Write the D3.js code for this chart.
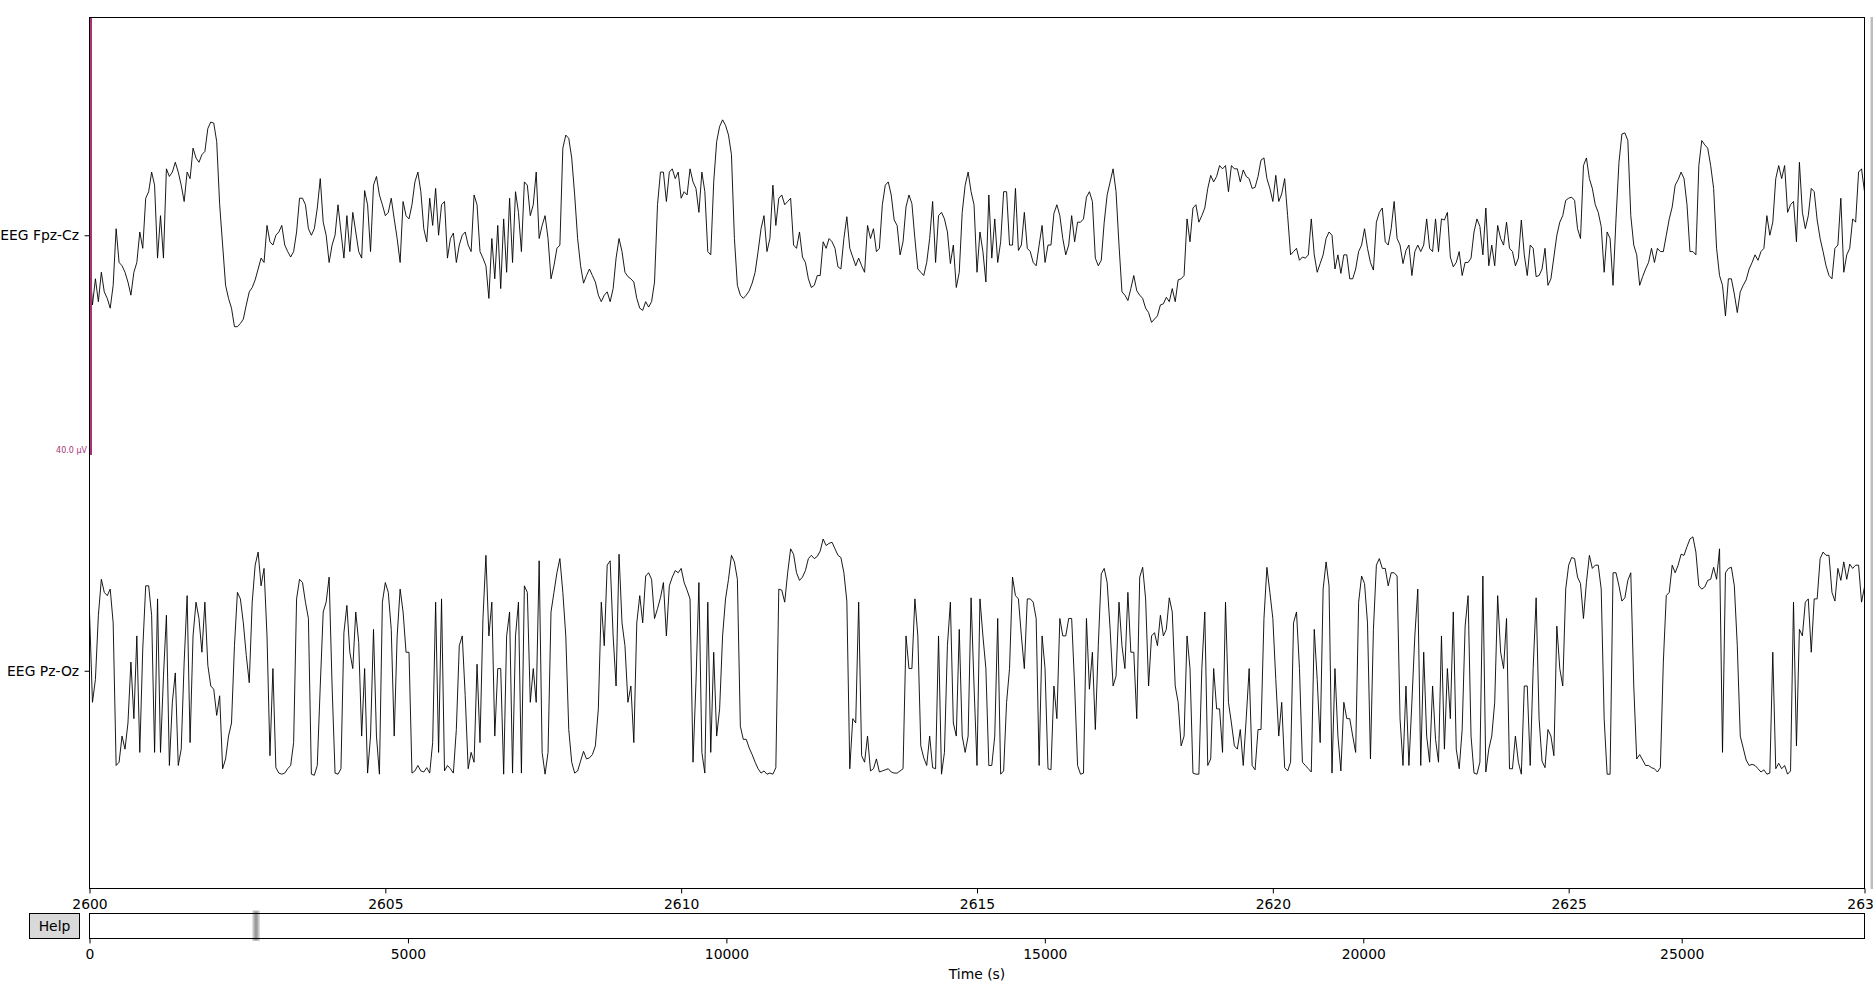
<!DOCTYPE html>
<html lang="en">
<head>
<meta charset="utf-8">
<title>EEG raw traces, 2600-2630 s</title>
<script src="https://cdn.jsdelivr.net/npm/d3@7"></script>
<style>
  body { margin: 0; background: #fff; }
  svg { display: block; }
  text { font-family: "DejaVu Sans", sans-serif; }
</style>
</head>
<body>
<script>
// figure size
var W = 1873, H = 982;

// window shown, sampling of the traced values (samples per second)
var tStart = 2600, tEnd = 2630, sfreq = 20;
// full recording length shown in the scrollbar (s)
var recordEnd = 27870;

var channels = ["EEG Fpz-Cz", "EEG Pz-Oz"];
var timeTicks = [2600, 2605, 2610, 2615, 2620, 2625, 2630];
var scrollTicks = [0, 5000, 10000, 15000, 20000, 25000];
var scaleUV = 40;   // µV per channel spacing (scale bar)

// EEG Fpz-Cz, µV, one value every 0.05 s from 2600 s
var fpzCz = [
  -2.1,-6.4,-4.0,-6.1,-3.4,-5.2,-5.8,-6.7,-4.6,0.6,
  -2.5,-2.8,-3.4,-4.3,-5.5,-3.4,-2.5,0.3,-1.2,3.4,
  4.0,5.8,4.6,-2.1,1.8,-2.1,6.1,5.4,5.8,6.7,
  5.8,4.6,3.1,5.8,5.2,8.0,7.1,6.7,7.4,7.7,
  9.8,10.4,10.3,8.6,2.8,-0.9,-4.6,-5.8,-6.7,-8.4,
  -8.4,-8.1,-7.7,-6.4,-5.2,-4.8,-4.1,-3.1,-2.1,-2.5,
  0.9,-0.6,-0.9,0,0.3,0.9,-0.9,-1.5,-2.0,-1.5,
  0.3,3.4,3.4,2.8,0.6,0,0.6,2.5,5.2,1.2,
  0,-2.5,-0.9,0,2.8,0.3,-2.1,1.8,-1.5,2.1,
  0.3,-1.5,-2.1,4.1,2.8,-1.5,4.6,5.4,3.7,2.8,
  1.8,2.1,3.4,1.5,-0.3,-2.5,3.1,1.8,1.5,2.8,
  4.9,5.8,4.0,0.6,-0.6,3.4,0.9,4.3,0,2.8,
  3.1,-2.1,-0.3,0.2,-2.5,-0.9,0,0.3,-0.9,-1.5,
  3.7,2.8,-1.5,-2.1,-2.8,-5.8,-0.3,-4.0,0.9,-4.9,
  1.5,-3.4,3.4,-2.5,4.0,2.1,-1.5,4.9,4.6,1.8,
  // 2607.5 s
  2.8,5.8,-0.3,0.9,1.8,-0.3,-4.0,-2.8,-1.2,-0.9,
  8.0,9.2,8.9,7.1,3.7,-0.3,-2.8,-4.4,-3.7,-3.1,
  -3.7,-4.3,-5.5,-6.1,-5.5,-5.2,-6.1,-4.9,-2.1,-0.3,
  -1.5,-3.4,-3.8,-4.0,-4.3,-5.8,-6.7,-6.9,-6.1,-6.6,
  -6.1,-4.3,2.8,5.8,5.8,3.1,5.8,6.1,5.2,5.8,
  3.4,4.0,3.7,6.1,4.9,4.3,2.1,5.8,4.0,-1.5,
  -1.8,4.9,8.6,10.0,10.6,10.1,9.2,7.4,-0.3,-4.6,
  -5.5,-5.8,-5.5,-5.1,-4.4,-3.4,-1.5,0.6,1.8,-1.5,
  -0.3,4.6,0.9,3.4,3.7,2.8,3.1,3.4,-0.9,-1.2,
  0.3,-2.0,-2.5,-4.0,-4.8,-4.6,-3.7,-3.7,-0.6,-1.2,
  -0.3,-0.6,-1.2,-2.9,-3.1,-0.3,1.7,-1.2,-2.0,-2.8,
  -2.1,-2.8,-3.4,0.9,-0.3,0.6,-1.5,-1.2,2.8,4.6,
  4.9,3.7,1.4,0.9,-1.8,-0.6,2.6,3.7,2.9,-0.3,
  -3.1,-3.4,-3.7,-2.5,-0.3,3.1,-2.5,1.8,2.1,1.5,
  0.3,-2.6,-0.9,-4.8,-3.4,2.1,4.6,5.8,4.0,2.8,
  // 2615 s
  -3.4,0.3,-1.5,-4.3,3.7,-2.1,1.5,-2.5,-0.6,4.0,
  4.0,-0.9,-0.9,4.3,-1.4,-0.9,2.1,-1.2,-1.5,-2.5,
  -2.8,-0.9,0.9,-2.5,-0.9,-0.9,2.0,2.8,1.8,-0.3,
  -1.8,-0.9,1.8,-0.6,1.2,1.2,1.5,3.5,4.0,3.1,
  -2.1,-2.8,-2.3,1.2,3.7,4.9,6.1,4.0,-0.9,-5.2,
  -5.5,-6.0,-4.9,-3.7,-5.1,-5.5,-5.8,-6.7,-7.1,-8.0,
  -7.7,-7.4,-6.4,-6.3,-5.7,-6.1,-4.9,-6.1,-4.1,-4.0,
  -3.7,1.5,-0.6,2.5,2.8,1.2,1.8,2.5,4.3,5.5,
  4.9,5.4,6.4,6.1,6.4,4.0,6.4,6.1,6.1,4.9,
  6.0,5.4,5.2,4.3,4.4,5.4,6.9,7.1,5.2,4.3,
  3.1,5.5,3.1,3.8,5.2,1.8,-1.8,-1.5,-1.2,-2.3,
  -2.0,-2.1,-1.8,1.5,-1.8,-3.4,-2.6,-1.8,-0.3,0.3,
  0,-3.1,-1.8,-3.5,-1.8,-1.8,-4.0,-4.0,-3.1,-1.5,
  -0.9,0.6,-1.2,-2.5,-3.2,1.2,2.1,2.5,-0.6,-0.9,
  0.6,3.1,-0.3,-0.9,-2.6,-1.4,-0.9,-3.7,-1.5,-0.9,
  // 2622.5 s
  -1.5,-0.9,1.5,-1.2,-1.5,1.5,-1.5,1.5,1.4,2.1,
  -2.0,-2.9,-2.5,-1.5,-3.7,-2.5,-2.5,-2.1,0.3,1.5,
  0.8,-1.8,2.5,-2.8,-0.9,-2.8,0.9,-0.3,-0.9,1.2,
  -1.2,-1.5,-2.8,-2.1,1.4,-1.8,-3.7,-0.9,-1.2,-3.8,
  -3.7,-3.1,-1.2,-4.6,-4.0,-2.0,0,1.2,1.8,3.2,
  3.4,3.5,3.2,0.6,-0.3,6.4,7.1,5.2,4.3,2.8,
  2.1,0.8,-3.4,0.3,-0.3,-4.6,1.5,6.7,9.3,9.4,
  8.7,1.8,-0.9,-1.8,-4.6,-3.8,-3.1,-2.5,-1.2,-2.5,
  -1.2,-1.5,-1.5,0,1.5,2.6,4.6,5.1,5.8,5.2,
  2.8,-1.5,-1.5,-1.8,6.4,8.7,8.3,8.0,6.4,4.3,
  -1.2,-3.7,-4.6,-7.4,-4.0,-4.0,-5.4,-7.1,-5.2,-4.6,
  -4.1,-3.1,-2.5,-1.8,-2.3,-1.5,-1.2,1.8,0,1.2,
  5.2,6.4,5.2,6.4,2.1,2.8,3.1,-0.6,6.7,2.1,
  0.6,1.8,4.3,4.0,1.4,-0.3,-1.5,-2.8,-3.7,-4.0,
  -1.2,-0.9,3.4,-3.4,-1.8,-1.2,1.5,1.2,5.8,6.1,
  4.0
];

// EEG Pz-Oz, µV, one value every 0.05 s from 2600 s
var pzOz = [
  5.4,-2.9,-0.8,5.1,8.4,7.2,6.9,7.5,4.4,-8.7,
  -8.4,-6.0,-7.2,-4.8,0.8,-4.4,3.2,-7.5,2.0,7.8,
  7.8,5.1,-7.5,6.6,-7.5,-0.5,5.1,-8.7,-2.9,-0.2,
  -8.7,-7.2,0.8,6.9,-6.6,3.2,6.3,4.8,1.7,6.3,
  0.5,-1.4,-1.7,-4.1,-2.3,-9.0,-8.1,-6.0,-4.8,2.3,
  7.2,6.6,4.4,1.4,-1.1,6.3,9.7,10.9,7.8,9.4,
  3.2,-7.8,0.2,-8.9,-9.4,-9.5,-9.4,-9.0,-8.7,-6.6,
  6.6,8.4,8.1,6.3,4.8,-9.5,-9.6,-8.7,-1.4,5.4,
  6.3,8.6,-1.4,-9.4,-9.5,-9.0,3.5,6.0,1.7,0.2,
  5.4,2.6,-6.0,0.2,-9.4,-6.0,3.8,-6.0,-9.5,6.3,
  8.1,7.2,3.8,-6.0,3.2,7.5,5.4,1.7,1.7,-9.4,
  -9.2,-8.7,-9.2,-9.3,-8.9,-9.4,-6.6,6.3,-7.5,6.6,
  -9.2,-8.7,-9.0,-9.4,-5.4,2.3,3.2,-2.3,-9.0,-7.5,
  -8.4,0.6,-6.6,4.8,10.6,3.2,6.3,-6.0,0.2,0.2,
  -9.5,3.2,5.4,-9.4,3.2,6.3,-9.4,7.8,7.2,-2.9,
  // 2607.5 s
  0.2,-2.9,10.1,-7.5,-9.5,-7.5,5.4,7.2,9.0,10.3,
  7.2,3.2,-5.4,-8.4,-9.4,-9.2,-8.3,-7.4,-8.1,-8.0,
  -7.7,-6.9,-3.5,6.3,2.3,9.7,10.1,3.2,-1.4,10.7,
  4.4,2.3,-2.9,-1.4,-6.6,4.4,6.9,4.4,8.7,9.0,
  8.4,4.8,5.7,6.7,8.1,3.2,7.8,8.6,9.2,9.0,
  9.4,8.1,7.4,6.6,-8.4,-1.1,8.1,-7.5,-9.4,6.3,
  -7.5,1.7,-6.0,-3.5,3.2,6.6,8.4,10.6,10.0,8.4,
  -5.1,-6.3,-6.3,-7.1,-7.7,-8.4,-9.0,-9.4,-9.2,-9.5,
  -9.4,-9.5,-8.9,7.5,7.4,6.3,9.0,11.2,10.7,9.0,
  8.3,8.6,9.2,10.3,10.6,10.3,10.5,11.0,12.1,11.5,
  11.7,11.8,11.2,10.6,10.4,9.0,6.4,-9.0,-4.4,-4.8,
  6.3,-7.8,-8.4,-6.0,-9.2,-9.0,-8.1,-9.3,-9.2,-9.1,
  -9.0,-9.3,-9.4,-9.4,-9.2,-9.0,3.2,0.2,0.2,6.6,
  3.2,-6.9,-8.0,-8.7,-6.0,-8.9,-9.0,3.2,-9.5,-7.5,
  2.3,6.3,-4.8,-6.0,3.8,-6.0,-7.5,-6.0,6.7,-1.4,
  // 2615 s
  -8.7,6.6,3.2,0.2,-8.7,-8.7,-6.0,4.8,-9.5,-9.2,
  -2.9,0.2,8.6,6.9,6.6,3.2,0.2,6.6,6.6,6.3,
  4.8,-8.7,3.2,0.2,-9.0,-9.1,-1.4,-4.4,4.8,3.2,
  3.2,4.8,4.8,-1.4,-8.7,-9.5,-9.4,4.8,-1.7,1.7,
  -5.4,2.3,8.9,9.4,8.1,3.8,-1.4,-0.5,6.3,2.3,
  0.2,7.2,1.7,1.7,-4.4,8.6,9.5,6.6,-1.4,3.2,
  3.5,2.3,5.1,3.2,3.8,6.7,5.4,-1.4,-2.9,-6.9,
  -6.0,3.2,0.2,-9.4,-9.5,-9.5,0.2,5.4,-8.7,-8.1,
  0.2,-3.5,-3.5,-7.5,6.3,-2.9,-4.8,-6.9,-7.2,-5.4,
  -8.7,-4.4,0.2,-8.7,-9.1,-5.4,-5.4,4.8,9.5,7.2,
  4.8,-0.8,-6.0,-2.9,-8.9,-9.2,-8.4,4.4,5.4,0.2,
  -8.4,-8.7,-9.0,-9.3,3.8,-0.8,-6.6,7.5,10.0,7.8,
  -9.4,0.2,-6.0,-9.2,-2.9,-4.4,-4.4,-6.0,-7.5,6.3,
  8.7,8.0,4.4,-8.1,3.8,9.7,10.3,9.4,9.4,7.8,
  9.0,9.0,8.7,-4.4,-8.7,-1.4,-8.7,-2.9,3.2,7.5,
  // 2622.5 s
  -8.7,1.7,-6.0,-8.4,-1.4,-6.3,-8.4,3.2,-7.2,0.2,
  -4.4,5.4,-7.2,-9.0,-5.4,4.1,6.9,-6.0,-9.4,-9.5,
  -8.4,8.7,-9.3,-7.2,-6.0,-2.9,6.9,1.7,0.2,4.8,
  -9.0,-9.0,-6.0,-8.4,-9.5,-1.4,-1.4,-8.7,0.2,6.7,
  -4.4,-8.3,-8.9,-5.4,-6.0,-7.8,4.1,0.2,-1.4,7.5,
  9.7,10.4,10.3,8.6,8.0,4.8,8.1,10.6,9.4,9.7,
  9.7,7.5,-4.4,-9.5,-9.5,9.0,9.0,7.8,6.4,6.7,
  8.3,9.0,-1.4,-8.1,-7.7,-8.2,-8.7,-8.7,-8.9,-9.0,
  -9.3,-8.9,0.8,6.9,7.2,9.7,9.0,9.7,10.7,10.6,
  11.4,12.1,12.3,10.9,7.8,7.5,7.7,8.3,8.4,9.5,
  8.4,11.2,-7.5,9.0,9.4,9.5,7.8,2.3,-6.0,-7.1,
  -8.2,-8.7,-8.6,-8.7,-9.0,-9.3,-9.1,-9.5,-9.4,1.7,
  -9.0,-8.5,-9.0,-8.7,-9.5,-9.2,6.3,-6.9,3.8,3.2,
  6.3,6.6,1.7,6.6,6.6,10.3,10.9,10.6,10.6,7.2,
  6.4,9.4,8.3,10.0,8.4,9.8,9.4,9.7,9.7,6.3,
  7.7
];

var traces = [fpzCz, pzOz];

// layout of the two axes (main traces + horizontal scrollbar)
var axLeft = 89.5, axRight = 1864.5;
var axTop = 17.5, axBottom = 888.5;
var sTop = 913.5, sBottom = 938.5;
var fontSize = 13.9, tickLen = 4.9;
var scaleColor = "#AA3377";

var svg = d3.select("body").append("svg")
  .attr("width", W)
  .attr("height", H);

svg.append("rect").attr("width", W).attr("height", H).attr("fill", "#fff");

var x = d3.scaleLinear().domain([tStart, tEnd]).range([axLeft, axRight]);
// channel i sits at offset i; one unit = scaleUV microvolts
var y = d3.scaleLinear().domain([-0.5, channels.length - 0.5]).range([axTop, axBottom]);
var xs = d3.scaleLinear().domain([0, recordEnd]).range([axLeft, axRight]);

svg.append("clipPath").attr("id", "plotclip")
  .append("rect")
  .attr("x", axLeft).attr("y", axTop)
  .attr("width", axRight - axLeft).attr("height", axBottom - axTop);

// traces
var line = d3.line()
  .x(function(d, i) { return x(tStart + i / sfreq); });

var traceG = svg.append("g").attr("clip-path", "url(#plotclip)");
traces.forEach(function(vals, ch) {
  line.y(function(d) { return y(ch - d / scaleUV); });
  traceG.append("path")
    .datum(vals)
    .attr("d", line)
    .attr("fill", "none")
    .attr("stroke", "#000")
    .attr("stroke-width", 0.9)
    .attr("stroke-linejoin", "round");
});

// scale bar on the first channel
svg.append("line")
  .attr("x1", x(tStart) + 1).attr("x2", x(tStart) + 1)
  .attr("y1", y(-0.5)).attr("y2", y(0.5) + 2)
  .attr("stroke", scaleColor)
  .attr("stroke-width", 3);
svg.append("text")
  .attr("x", axLeft - 2.5)
  .attr("y", y(0.5))
  .attr("text-anchor", "end")
  .attr("font-size", 8)
  .attr("fill", scaleColor)
  .text(scaleUV.toFixed(1) + " µV");

// frame of main axes
svg.append("rect")
  .attr("x", axLeft).attr("y", axTop)
  .attr("width", axRight - axLeft).attr("height", axBottom - axTop)
  .attr("fill", "none").attr("stroke", "#000").attr("stroke-width", 1);

function styleAxis(g) {
  g.select(".domain").remove();
  g.attr("font-size", null).attr("font-family", null);
  g.selectAll(".tick line").attr("stroke", "#000");
  g.selectAll(".tick text").attr("fill", "#000").attr("font-size", fontSize);
}

// time axis
svg.append("g")
  .attr("transform", "translate(0," + axBottom + ")")
  .call(d3.axisBottom(x).tickValues(timeTicks).tickFormat(d3.format("d"))
    .tickSize(tickLen).tickPadding(6.2))
  .call(styleAxis);

// channel names
svg.append("g")
  .attr("transform", "translate(" + axLeft + ",0)")
  .call(d3.axisLeft(y).tickValues(d3.range(channels.length))
    .tickFormat(function(i) { return channels[i]; })
    .tickSize(tickLen).tickPadding(5.5))
  .call(styleAxis);

// vertical scrollbar, only its edge is inside the window
svg.append("rect")
  .attr("x", axRight + 6).attr("y", axTop - 0.5)
  .attr("width", 12).attr("height", axBottom - axTop + 1)
  .attr("fill", "#bdbdbd");

// horizontal scrollbar
var selW = xs(tEnd) - xs(tStart);
svg.append("rect")
  .attr("x", xs(tStart) - 2.6).attr("y", sTop - 3)
  .attr("width", selW + 5.2).attr("height", sBottom - sTop + 5.5)
  .attr("fill", "#c4c4c4");
svg.append("rect")
  .attr("x", xs(tStart) - 0.6).attr("y", sTop - 2)
  .attr("width", selW + 1.2).attr("height", sBottom - sTop + 3.5)
  .attr("fill", "#9a9a9a");
svg.append("rect")
  .attr("x", axLeft).attr("y", sTop)
  .attr("width", axRight - axLeft).attr("height", sBottom - sTop)
  .attr("fill", "none").attr("stroke", "#000").attr("stroke-width", 1);

svg.append("g")
  .attr("transform", "translate(0," + sBottom + ")")
  .call(d3.axisBottom(xs).tickValues(scrollTicks).tickFormat(d3.format("d"))
    .tickSize(tickLen).tickPadding(5.9))
  .call(styleAxis);

svg.append("text")
  .attr("x", (axLeft + axRight) / 2)
  .attr("y", 979)
  .attr("text-anchor", "middle")
  .attr("font-size", fontSize)
  .text("Time (s)");

// Help button
svg.append("rect")
  .attr("x", 29.5).attr("y", sTop)
  .attr("width", 50).attr("height", sBottom - sTop)
  .attr("fill", "#d9d9d9").attr("stroke", "#000").attr("stroke-width", 1);
svg.append("text")
  .attr("x", 54.5).attr("y", (sTop + sBottom) / 2)
  .attr("dy", "0.36em")
  .attr("text-anchor", "middle")
  .attr("font-size", fontSize)
  .text("Help");
</script>
</body>
</html>
